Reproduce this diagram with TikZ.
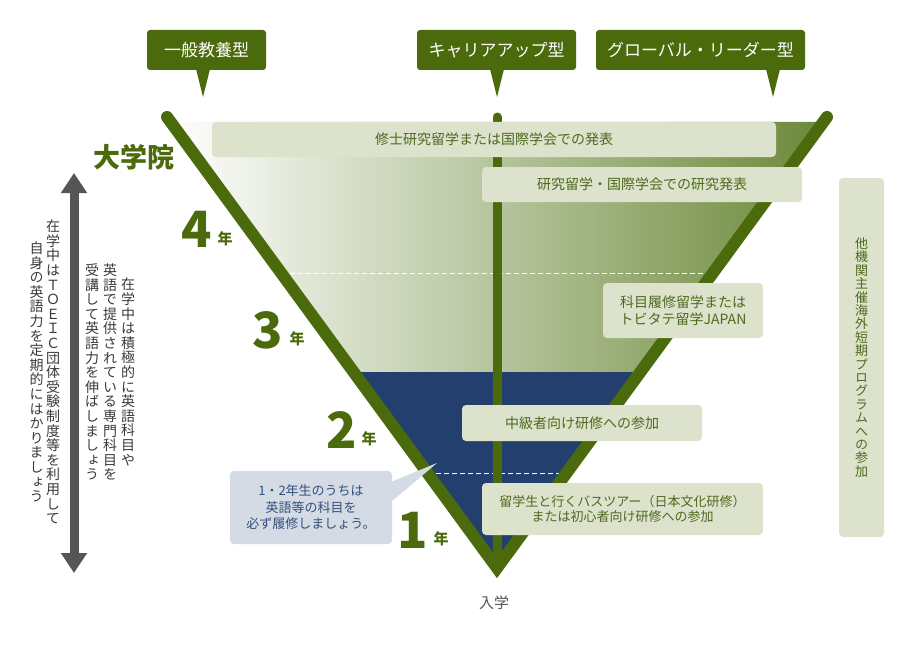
\documentclass[tikz,border=0pt]{standalone}
\usepackage{fontspec}
\setmainfont{Noto Sans CJK JP}
\newfontfamily\jpv[RawFeature=+vert]{Noto Sans CJK JP}
\usetikzlibrary{arrows.meta}
\definecolor{dkgreen}{HTML}{4B6A0C}
\definecolor{fillgreen}{HTML}{6C893A}
\definecolor{boxfill}{HTML}{DCE2CC}
\definecolor{boxtext}{HTML}{4E6A1E}
\definecolor{navy}{HTML}{233F6E}
\definecolor{callfill}{HTML}{D4DBE5}
\definecolor{calltext}{HTML}{34507D}
\definecolor{arrgray}{HTML}{555555}
\definecolor{vtext}{HTML}{3A3A3A}
\makeatletter
\def\vcolloop#1{\ifx#1\relax\else\hbox to 1em{\hss#1\hss}\expandafter\vcolloop\fi}
\newcommand\vcol[2]{\vbox{\baselineskip=#1\lineskip=0pt\lineskiplimit=-100pt\jpv\vcolloop#2\relax}}
\makeatother
\tikzset{
  lbl/.style={fill=dkgreen, text=white, rounded corners=3pt, minimum height=40pt, inner sep=0pt, font=\fontsize{17}{20}\selectfont},
  gbox/.style={fill=boxfill, text=boxtext, rounded corners=4pt, inner sep=0pt, align=center},
  cbox/.style={fill=callfill, text=calltext, rounded corners=4pt, inner sep=0pt, align=center, font=\fontsize{13}{16.5}\selectfont},
  bignum/.style={text=dkgreen, inner sep=0pt, font=\bfseries\fontsize{50}{50}\selectfont},
  nen/.style={text=dkgreen, inner sep=0pt, font=\bfseries\fontsize{15}{15}\selectfont},
  vcolumn/.style={text=vtext, inner sep=0pt, font=\fontsize{14}{14}\selectfont},
}
\begin{document}
\begin{tikzpicture}[x=1pt,y=-1pt]
\useasboundingbox (0,0) rectangle (902,650);
\coordinate (TL) at (167,117);
\coordinate (TR) at (827,117);
\coordinate (AP) at (497,568);
% fills
\shade[left color=white, right color=fillgreen] (170.7,122) -- (823.3,122) -- (AP) -- cycle;
\fill[navy] (353.6,372) -- (640.4,372) -- (AP) -- cycle;
\draw[white, line width=1pt, dash pattern=on 5pt off 3pt] (282,273) -- (712,273);
\draw[white, line width=1pt, dash pattern=on 5pt off 3pt] (428,473) -- (566,473);
% lines
\coordinate (MT) at (497,117);
\coordinate (MB) at (497,566);
\draw[dkgreen, line width=9pt, line cap=round] (MT) -- (MB);
\draw[dkgreen, line width=12pt, line cap=round, line join=miter] (TL) -- (AP) -- (TR);
% top labels
\node[lbl, minimum width=119pt] (l1) at (206.5,50) {一般教養型};
\coordinate (t1) at (203,97);
\fill[dkgreen] (t1) -- ++(-7,-28) -- ++(14,0) -- cycle;
\node[lbl, minimum width=159pt] (l2) at (496.5,50) {キャリアアップ型};
\coordinate (t2) at (497,97);
\fill[dkgreen] (t2) -- ++(-7,-28) -- ++(14,0) -- cycle;
\node[lbl, minimum width=209pt] (l3) at (700.5,50) {グローバル・リーダー型};
\coordinate (t3) at (773,97);
\fill[dkgreen] (t3) -- ++(-7,-28) -- ++(14,0) -- cycle;
% boxes
\node[gbox, minimum width=564pt, minimum height=35pt, font=\fontsize{14}{16}\selectfont] (b1) at (494,139.5) {修士研究留学または国際学会での発表};
\node[gbox, minimum width=320pt, minimum height=35pt, font=\fontsize{14}{16}\selectfont] (b2) at (642,184.5) {研究留学・国際学会での研究発表};
\node[gbox, minimum width=160pt, minimum height=55pt, font=\fontsize{14}{16.5}\selectfont] (b3) at (683,310.5) {科目履修留学または\\トビタテ留学JAPAN};
\node[gbox, minimum width=240pt, minimum height=36pt, font=\fontsize{14}{16}\selectfont] (b4) at (582,423) {中級者向け研修への参加};
\node[gbox, minimum width=281pt, minimum height=52pt, font=\fontsize{13}{15}\selectfont] (b5) at (622.5,509) {留学生と行くバスツアー（日本文化研修）\\または初心者向け研修への参加};
\node[gbox, minimum width=45pt, minimum height=359pt, font=\fontsize{13}{13}\selectfont] (b6) at (861.5,357.5) {\vcol{13.4pt}{他機関主催海外短期プログラムへの参加}};
% callout
\node[cbox, minimum width=162pt, minimum height=73pt] (cb) at (311,507.5) {1・2年生のうちは\\英語等の科目を\\必ず履修しましょう。};
\coordinate (ct) at (437,463);
\fill[callfill] (391,482) -- (ct) -- (391,502) -- cycle;
% year labels
\node[text=dkgreen, inner sep=0pt, font=\bfseries\fontsize{27}{27}\selectfont] (dg) at (134,157) {大学院};
\node[bignum] (n4) at (197,229) {4};
\node[nen] (y4) at (225,239) {年};
\node[bignum] (n3) at (268,330) {3};
\node[nen] (y3) at (297,339) {年};
\node[bignum] (n2) at (342,430) {2};
\node[nen] (y2) at (369,439) {年};
\node[bignum] (n1) at (413,530) {1};
\node[nen] (y1) at (441,539) {年};
\node[text=arrgray, inner sep=0pt, font=\fontsize{15}{15}\selectfont] (ent) at (494,603) {入学};
% left arrow
\coordinate (a1) at (74,173);
\coordinate (a2) at (74,573);
\draw[arrgray, line width=9pt, {Triangle[width=25pt,length=20pt]}-{Triangle[width=25pt,length=20pt]}] (a1) -- (a2);
% vertical texts
\node[vcolumn] (c1) at (53,372) {\vcol{14.6pt}{在学中はＴＯＥＩＣ団体受験制度等を利用して}};
\node[vcolumn] (c2) at (36.5,372) {\vcol{14.6pt}{自身の英語力を定期的にはかりましょう}};
\node[vcolumn] (c3) at (128,372) {\vcol{14.6pt}{在学中は積極的に英語科目や}};
\node[vcolumn] (c4) at (110,372) {\vcol{14.6pt}{英語で提供されている専門科目を}};
\node[vcolumn] (c5) at (92,372) {\vcol{14.6pt}{受講して英語力を伸ばしましょう}};
\end{tikzpicture}
\end{document}
